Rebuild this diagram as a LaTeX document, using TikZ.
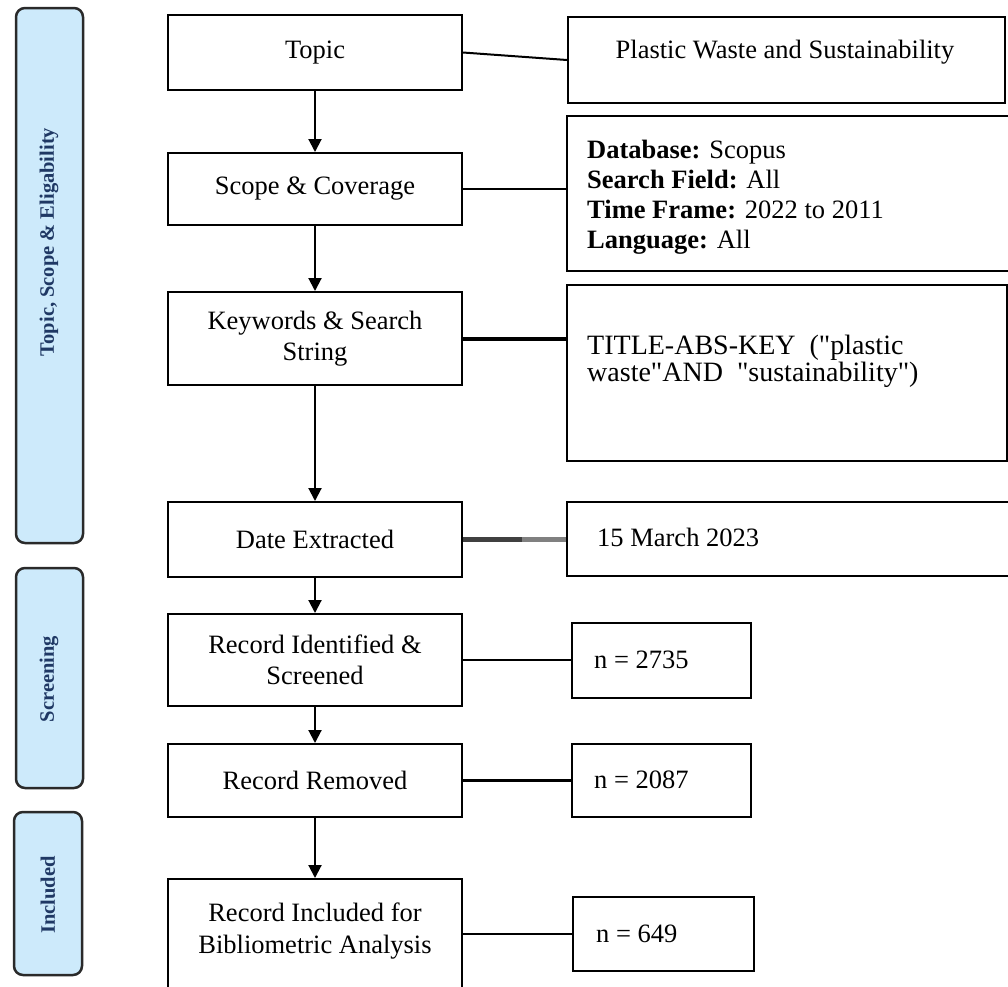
\documentclass[tikz,border=0pt]{standalone}
\usepackage{fontspec}
\setmainfont{Liberation Serif}
\newfontfamily\qfont{Liberation Serif}[Ligatures=TeXOff]
\usetikzlibrary{arrows.meta,calc}
\definecolor{panelfill}{HTML}{CDEAFB}
\definecolor{paneltext}{HTML}{1F3864}
\definecolor{paneldraw}{HTML}{2A2A2A}
\begin{document}
\begin{tikzpicture}[x=1pt,y=-1pt,
  stepbox/.style={draw=black,line width=2pt,minimum width=294pt,inner sep=0pt,align=center,font=\fontsize{26.5}{31}\selectfont},
  infobox/.style={draw=black,line width=2pt,inner sep=0pt},
  infotext/.style={anchor=west,align=left,inner sep=0pt,font=\fontsize{26.5}{30}\selectfont},
  steptext/.style={align=center,inner sep=0pt,font=\fontsize{26.5}{32}\selectfont},
  panel/.style={draw=paneldraw,fill=panelfill,line width=2.5pt,rounded corners=9pt,inner sep=0pt},
  paneltxt/.style={rotate=90,text=paneltext,font=\bfseries\fontsize{20.5}{24}\selectfont,inner sep=0pt},
  flow/.style={line width=2pt,-{Triangle[width=13pt,length=13pt]}},
  link/.style={line width=2pt}]
\useasboundingbox (0,0) rectangle (1008,986);
\fill[white] (0,0) rectangle (1008,986);
\clip (0,0) rectangle (1008,986);

% side panels
\node[panel,minimum width=67pt,minimum height=535pt] (p1) at (49.5,275.5) {};
\node[paneltxt] (p1t) at (49,242) {Topic, Scope \& Eligability};
\node[panel,minimum width=67pt,minimum height=220pt] (p2) at (49.5,678) {};
\node[paneltxt] (p2t) at (49,679) {Screening};
\node[panel,minimum width=68pt,minimum height=163pt] (p3) at (48,893.5) {};
\node[paneltxt] (p3t) at (48,895) {Included};

% left flow boxes
\node[stepbox,minimum height=75pt] (topic) at (315,52.5) {Topic};
\node[stepbox,minimum height=72pt] (scope) at (315,189) {Scope \& Coverage};
\node[stepbox,minimum height=93pt] (kw) at (315,338.5) {Keywords \& Search\\String};
\node[stepbox,minimum height=75pt] (date) at (315,539.5) {Date Extracted};
\node[stepbox,minimum height=92pt] (ri) at (315,660) {Record Identified \&\\Screened};
\node[stepbox,minimum height=73pt] (rr) at (315,780.5) {Record Removed};
\node[stepbox,minimum height=131pt] (incl) at (315,944.5) {};
\node[steptext] (inclt) at (315,931) {Record Included for\\Bibliometric Analysis};

% right info boxes
\node[infobox,minimum width=437pt,minimum height=86pt] (plastic) at (786.5,60) {};
\node[inner sep=0pt,font=\fontsize{26.5}{30}\selectfont] (plastict) at (785,52) {Plastic Waste and Sustainability};
\node[infobox,minimum width=463pt,minimum height=155pt] (db) at (798.5,193.5) {};
\node[infotext] (dbt) at (587,197) {\textbf{Database:} Scopus\\\textbf{Search Field:} All\\\textbf{Time Frame:} 2022 to 2011\\\textbf{Language:} All};
\node[infobox,minimum width=440pt,minimum height=176pt] (title) at (787,373) {};
\node[infotext,font=\qfont\fontsize{28}{27}\selectfont] (titlet) at (587,361) {TITLE-ABS-KEY~ ("plastic\\waste"AND~ "sustainability")};
\node[infobox,minimum width=463pt,minimum height=74pt] (datebox) at (798.5,539) {};
\node[infotext] (datet) at (597,537) {15 March 2023};
\node[infobox,minimum width=179pt,minimum height=75pt] (n1) at (661.5,660.5) {};
\node[infotext] (n1t) at (594,660) {n = 2735};
\node[infobox,minimum width=179pt,minimum height=73pt] (n2) at (661.5,780.5) {};
\node[infotext] (n2t) at (594,780) {n = 2087};
\node[infobox,minimum width=181pt,minimum height=74pt] (n3) at (663.5,934) {};
\node[infotext] (n3t) at (596,934) {n = 649};

% flow arrows
\draw[flow] (topic.south) -- (scope.north);
\draw[flow] (scope.south) -- (kw.north);
\draw[flow] (kw.south) -- (date.north);
\draw[flow] (date.south) -- (ri.north);
\draw[flow] (ri.south) -- (rr.north);
\draw[flow] (rr.south) -- (incl.north);

% links
\draw[link] (topic.east) -- (plastic.west);
\draw[link] (scope.east) -- (scope.east -| db.west);
\draw[link,line width=4pt] (kw.east) -- (kw.east -| title.west);
\coordinate (dmid) at ($(date.east)!0.57!(date.east -| datebox.west)$);
\draw[line width=4.5pt,draw=black!75] (date.east) -- (dmid);
\draw[line width=4.5pt,draw=black!50] (dmid) -- (date.east -| datebox.west);
\draw[link] (ri.east) -- (ri.east -| n1.west);
\draw[link,line width=3.5pt] (rr.east) -- (n2.west);
\draw[link] (n3.west -| incl.east) -- (n3.west);
\end{tikzpicture}
\end{document}
